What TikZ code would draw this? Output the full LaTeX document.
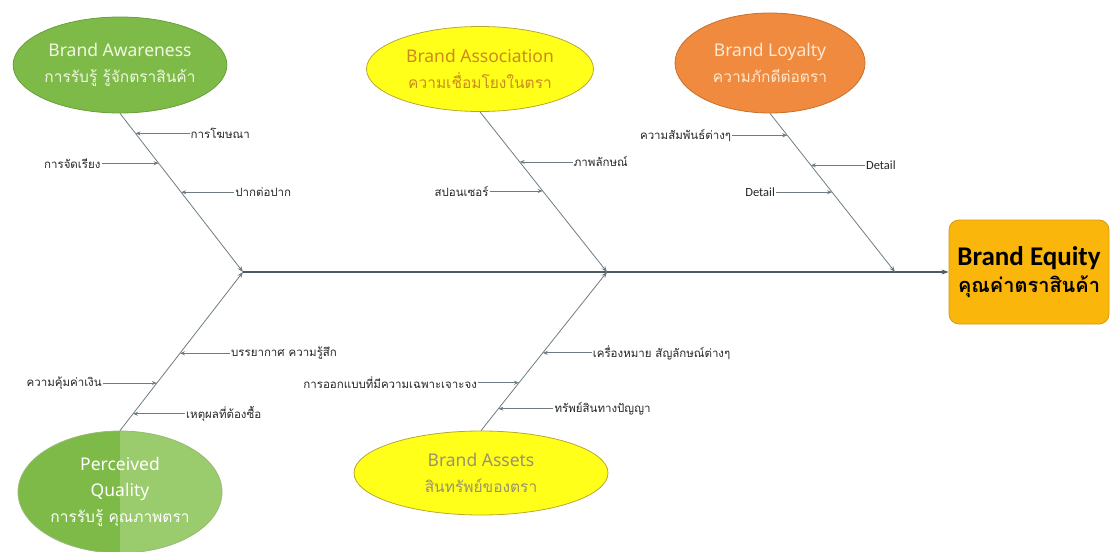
\documentclass[tikz,border=0pt]{standalone}
\usepackage{fontspec}
\setmainfont{Noto Sans}
\newfontfamily\thai[Script=Thai]{Loma}
\newfontfamily\carl{Carlito}
\usetikzlibrary{arrows.meta,calc,shapes.geometric}
\definecolor{awgreen}{HTML}{7DBA47}
\definecolor{awedge}{HTML}{6A9E3C}
\definecolor{awtext}{HTML}{F0F8E4}
\definecolor{asyellow}{HTML}{FFFF1A}
\definecolor{asedge}{HTML}{B8A830}
\definecolor{astext}{HTML}{CC8A1E}
\definecolor{lyorange}{HTML}{EF8A3E}
\definecolor{lyedge}{HTML}{C8702C}
\definecolor{lytext}{HTML}{FFE8D2}
\definecolor{pqlight}{HTML}{9ACB6C}
\definecolor{attext}{HTML}{9A9270}
\definecolor{eqfill}{HTML}{FAB60A}
\definecolor{eqedge}{HTML}{D8980A}
\definecolor{linegrey}{HTML}{6E7C82}
\definecolor{spinegrey}{HTML}{4E5C62}
\newcommand{\ethai}[1]{{\thai\fontsize{15.5}{26}\selectfont #1}}
\tikzset{
  ell/.style={ellipse, inner sep=0pt, align=center, line width=0.8pt},
  elltext/.style={font=\fontsize{17.5}{26}\selectfont},
  lbl/.style={font=\thai\fontsize{11.5}{13}\selectfont, inner sep=1pt, text=black!85},
  dlbl/.style={font=\carl\fontsize{12.5}{14}\selectfont, inner sep=1pt, text=black!85},
  branch/.style={draw=linegrey, line width=0.8pt, -{Stealth[length=6pt,width=4.5pt]}},
  sub/.style={draw=linegrey, line width=0.8pt, -{Stealth[length=5pt,width=4pt]}},
  spine/.style={draw=spinegrey, line width=1.4pt, -{Stealth[length=7pt,width=5pt]}}
}
\begin{document}
\begin{tikzpicture}[x=1pt,y=-1pt]
\useasboundingbox (0,0) rectangle (1110,551);

% junctions on the spine
\coordinate (JL) at (243,272);
\coordinate (JM) at (607,272);
\coordinate (JR) at (895,272);

% effect box
\node[draw=eqedge, fill=eqfill, rounded corners=10pt, minimum width=160pt,
      minimum height=104pt, align=center, inner sep=0pt, line width=0.8pt] (eq) at (1029,272)
  {{\carl\bfseries\fontsize{27}{30}\selectfont Brand Equity}\\[5pt]
   {\thai\bfseries\fontsize{20}{24}\selectfont คุณค่าตราสินค้า}};

% cause ellipses
\node[ell, elltext, fill=awgreen, draw=awedge, text=awtext, minimum width=210pt, minimum height=96pt]
  (aw) at (120,65) {Brand Awareness\\\ethai{การรับรู้ รู้จักตราสินค้า}};
\node[ell, elltext, fill=asyellow, draw=asedge, text=astext, minimum width=227pt, minimum height=85pt]
  (as) at (480,69) {Brand Association\\\ethai{ความเชื่อมโยงในตรา}};
\node[ell, elltext, fill=lyorange, draw=lyedge, text=lytext, minimum width=190pt, minimum height=100pt]
  (ly) at (770,63) {Brand Loyalty\\\ethai{ความภักดีต่อตรา}};
\begin{scope}
  \clip (120,492) ellipse [x radius=102pt, y radius=61pt];
  \fill[awgreen] (0,420) rectangle (120,560);
  \fill[pqlight] (120,420) rectangle (240,560);
\end{scope}
\node[ell, elltext, draw=awedge!70, text=white, minimum width=204pt, minimum height=122pt]
  (pq) at (120,492) {Perceived\\Quality\\\ethai{การรับรู้ คุณภาพตรา}};
\node[ell, elltext, fill=asyellow, draw=asedge, text=attext, minimum width=254pt, minimum height=84pt]
  (at) at (481,473) {Brand Assets\\\ethai{สินทรัพย์ของตรา}};

% spine
\draw[spine] (JL) -- (eq.west);

% main bones
\draw[branch] (aw.south) -- (JL);
\draw[branch] (pq.north) -- (JL);
\draw[branch] (as.south) -- (JM);
\draw[branch] (at.north) -- (JM);
\draw[branch] (ly.south) -- (JR);

% points on bones
\coordinate (a1) at ($(aw.south)!0.126!(JL)$);
\coordinate (a2) at ($(aw.south)!0.314!(JL)$);
\coordinate (a3) at ($(aw.south)!0.497!(JL)$);
\coordinate (b1) at ($(as.south)!0.3125!(JM)$);
\coordinate (b2) at ($(as.south)!0.494!(JM)$);
\coordinate (c1) at ($(ly.south)!0.138!(JR)$);
\coordinate (c2) at ($(ly.south)!0.327!(JR)$);
\coordinate (c3) at ($(ly.south)!0.497!(JR)$);
\coordinate (d1) at ($(pq.north)!0.4875!(JL)$);
\coordinate (d2) at ($(pq.north)!0.30!(JL)$);
\coordinate (d3) at ($(pq.north)!0.106!(JL)$);
\coordinate (e1) at ($(at.north)!0.49!(JM)$);
\coordinate (e2) at ($(at.north)!0.302!(JM)$);
\coordinate (e3) at ($(at.north)!0.138!(JM)$);

% labels
\node[lbl, anchor=west] (la1) at ([xshift=54pt]a1) {การโฆษณา};
\node[lbl, anchor=east] (la2) at ([xshift=-57pt]a2) {การจัดเรียง};
\node[lbl, anchor=west] (la3) at ([xshift=53pt]a3) {ปากต่อปาก};
\node[lbl, anchor=west] (lb1) at ([xshift=53pt]b1) {ภาพลักษณ์};
\node[lbl, anchor=east] (lb2) at ([xshift=-53pt]b2) {สปอนเซอร์};
\node[lbl, anchor=east] (lc1) at ([xshift=-55pt]c1) {ความสัมพันธ์ต่างๆ};
\node[dlbl, anchor=west] (lc2) at ([xshift=54pt]c2) {Detail};
\node[dlbl, anchor=east] (lc3) at ([xshift=-56pt]c3) {Detail};
\node[lbl, anchor=west] (ld1) at ([xshift=50pt]d1) {บรรยากาศ ความรู้สึก};
\node[lbl, anchor=east] (ld2) at ([xshift=-54pt]d2) {ความคุ้มค่าเงิน};
\node[lbl, anchor=west] (ld3) at ([xshift=52pt]d3) {เหตุผลที่ต้องซื้อ};
\node[lbl, anchor=west] (le1) at ([xshift=49pt]e1) {เครื่องหมาย สัญลักษณ์ต่างๆ};
\node[lbl, anchor=east] (le2) at ([xshift=-41pt]e2) {การออกแบบที่มีความเฉพาะเจาะจง};
\node[lbl, anchor=west] (le3) at ([xshift=55pt]e3) {ทรัพย์สินทางปัญญา};

% sub-bone arrows
\foreach \l/\p in {la1/a1,la2/a2,la3/a3,lb1/b1,lb2/b2,lc1/c1,lc2/c2,lc3/c3,
                   ld1/d1,ld2/d2,ld3/d3,le1/e1,le2/e2,le3/e3}
  \draw[sub] (\l) -- (\p);
\end{tikzpicture}
\end{document}
